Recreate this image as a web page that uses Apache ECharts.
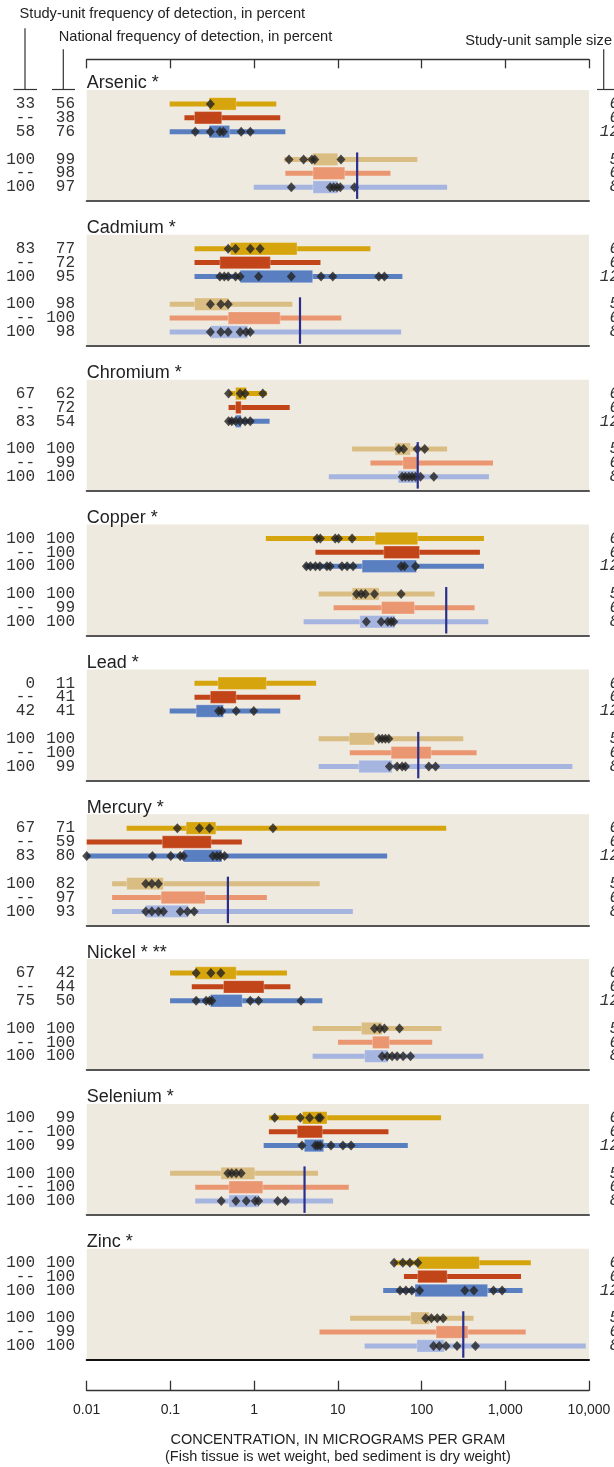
<!DOCTYPE html>
<html>
<head>
<meta charset="utf-8">
<script src="https://cdn.jsdelivr.net/npm/echarts@6/dist/echarts.min.js"></script>
<style>
html,body{margin:0;padding:0;background:#fff;}
#chart{width:614px;height:1467px;}
</style>
</head>
<body>
<div id="chart"></div>
<script>
// ---------------- DATA ----------------
const ELEMENTS = ['Arsenic *','Cadmium *','Chromium *','Copper *','Lead *','Mercury *','Nickel * **','Selenium *','Zinc *'];
const GUIDELINES = [17, 3.53, 90, 197, 91.3, 0.486, null, 4.0, 315];
const TICK_LABELS = ['0.01','0.1','1','10','100','1,000','10,000'];

// study-unit / national frequency of detection (rows: 3 fish tissue, 3 bed sediment)
const SU_FREQ = [
  ['33','--','58','100','--','100'],
  ['83','--','100','100','--','100'],
  ['67','--','83','100','--','100'],
  ['100','--','100','100','--','100'],
  ['0','--','42','100','--','100'],
  ['67','--','83','100','--','100'],
  ['67','--','75','100','--','100'],
  ['100','--','100','100','--','100'],
  ['100','--','100','100','--','100']
];
const NAT_FREQ = [
  ['56','38','76','99','98','97'],
  ['77','72','95','98','100','98'],
  ['62','72','54','100','99','100'],
  ['100','100','100','100','99','100'],
  ['11','41','41','100','100','99'],
  ['71','59','80','82','97','93'],
  ['42','44','50','100','100','100'],
  ['99','100','99','100','100','100'],
  ['100','100','100','100','99','100']
];
const SAMPLE_SIZE = ['6','6','12','5','6','8'];

// [min, lower box, upper box, max] per row
const arsenicStats  = [[0.098,0.29,0.61,1.84],[0.147,0.194,0.41,2.05],[0.098,0.29,0.51,2.36],[2.29,5.0,10.0,89],[2.36,5.05,12.1,42.5],[0.99,5.05,10.0,202]];
const cadmiumStats  = [[0.194,0.52,3.25,24.5],[0.194,0.39,1.56,6.2],[0.194,0.68,5.0,59],[0.098,0.194,0.5,2.86],[0.098,0.49,2.05,11.0],[0.098,0.30,0.84,57]];
const chromiumStats = [[0.495,0.60,0.81,1.42],[0.495,0.60,0.70,2.66],[0.495,0.60,0.70,1.53],[14.8,47.9,73.8,202],[24.5,60,91,713],[7.8,52.5,88.6,638]];
const copperStats   = [[1.38,27.9,90,556],[5.4,35.4,94.5,498],[3.98,19.5,87,556],[5.9,14.8,31.1,143],[8.9,33.2,82.3,430],[3.9,18.3,48.3,626]];
const leadStats     = [[0.194,0.37,1.4,5.5],[0.194,0.30,0.61,3.56],[0.098,0.203,0.43,2.05],[5.9,13.7,27.4,315],[13.9,43.3,130,454],[5.9,17.8,44.5,6330]];
const mercuryStats  = [[0.030,0.154,0.349,197],[0.01,0.080,0.307,0.714],[0.01,0.143,0.412,38.8],[0.0201,0.030,0.0826,6.07],[0.0201,0.0775,0.26,1.42],[0.0201,0.0508,0.164,15.1]];
const nickelStats   = [[0.099,0.198,0.61,2.47],[0.180,0.431,1.31,2.71],[0.099,0.30,0.72,6.53],[5.0,19.1,33.8,173],[10.05,25.9,41.3,134],[5.0,20.9,39.5,546]];
const seleniumStats = [[1.5,3.77,7.43,171],[1.5,3.28,6.53,40.2],[1.3,3.98,6.78,68.5],[0.099,0.40,1.02,5.8],[0.198,0.50,1.27,13.5],[0.198,0.50,1.14,8.77]];
const zincStats     = [[47.1,90,490,2018],[61.6,90,202,1541],[34.8,83.4,615,1607],[14.0,74.1,124,417],[6.04,149,358,1754],[20.9,88,187,9150]];

// study-unit site values (diamonds) per row
const arsenicSites  = [[0.30],[],[0.198,0.30,0.39,0.43,0.70,0.90],[2.61,3.9,4.9,5.3,10.9],[],[2.78,8.1,8.9,9.8,10.7,15.8]];
const cadmiumSites  = [[0.49,0.60,0.90,1.18],[],[0.39,0.44,0.49,0.60,0.68,1.13,2.78,6.3,8.7,30.8,36],[0.30,0.40,0.49],[],[0.30,0.40,0.49,0.68,0.80,0.90]];
const chromiumSites = [[0.495,0.68,0.78,1.27],[],[0.495,0.54,0.60,0.68,0.78,0.90],[53.5,61,88.6,109],[],[58.6,64,70.5,77,84.6,97,140]];
const copperSites   = [[5.64,6.18,9.3,10.2,14.8],[],[4.2,4.7,5.4,6.1,7.4,8.1,11.2,12.9,15.2,57,62.5,84.6],[16.7,19,21.3,27.4,57],[],[21.9,32.9,39.5,43.3,46.6]];
const leadSites     = [[],[],[0.376,0.41,0.61,0.99],[30.8,33.8,37,40.6],[],[41.3,51,58.6,64.3,122,147]];
const mercurySites  = [[0.121,0.222,0.293,1.68],[],[0.01,0.061,0.101,0.131,0.143,0.322,0.359,0.393,0.444],[0.0508,0.06,0.072],[],[0.0508,0.06,0.072,0.0826,0.131,0.16,0.192]];
const nickelSites   = [[0.203,0.304,0.40],[],[0.203,0.267,0.293,0.313,0.90,1.13,3.63],[27.4,31.7,36,54.5],[],[33.8,38.8,44.5,51,60.2,73.8]];
const seleniumSites = [[1.76,3.56,4.6,5.9,6.18],[],[3.73,5.39,5.74,6.18,8.29,11.5,14.4],[0.486,0.54,0.61,0.70],[],[0.405,0.605,0.806,1.03,1.13,1.91,2.36]];
const zincSites     = [[47,59.7,72.5,90],[],[55.3,65,76.5,94.9,329,421,723,917],[112,131,154,181],[],[139,163,196,265,440]];

const STATS = [arsenicStats,cadmiumStats,chromiumStats,copperStats,leadStats,mercuryStats,nickelStats,seleniumStats,zincStats];
const SITES = [arsenicSites,cadmiumSites,chromiumSites,copperSites,leadSites,mercurySites,nickelSites,seleniumSites,zincSites];

// ---------------- STYLE / LAYOUT ----------------
const ROW_COLORS = ['#d6a40c','#c2451a','#5a7fc1','#d9bd82','#ea9771','#a5b5df'];
const ROW_SLOTS = [1,2,3,5,6,7];
const PLOT_LEFT = 86.7, PLOT_RIGHT = 25;
const PANEL_TOP0 = 90, PANEL_STEP = 144.85, PANEL_H = 111;
const SANS = 'Liberation Sans, Arial, sans-serif';
const MONO = 'Liberation Mono, DejaVu Sans Mono, monospace';

function slotLabels(arr){
  const out = ['','','','','','','','',''];
  ROW_SLOTS.forEach((s,k)=>{ out[s] = arr[k]; });
  return out;
}

const option = {animation:false, grid:[], xAxis:[], yAxis:[], series:[], title:[], graphic:[]};

ELEMENTS.forEach((name,i)=>{
  const top = PANEL_TOP0 + i*PANEL_STEP;
  option.grid.push({left:PLOT_LEFT, right:PLOT_RIGHT, top:top, height:PANEL_H, show:true,
    backgroundColor:'#efeae0', borderWidth:0, containLabel:false, outerBoundsMode:'none'});
  option.xAxis.push({gridIndex:i, type:'log', logBase:10, min:0.01, max:10000,
    axisLine:{show:true, onZero:false, lineStyle:{color: i===8 ? '#111' : '#555', width:2}},
    axisTick:{show:false}, axisLabel:{show:false}, splitLine:{show:false}});
  const cat = {type:'category', boundaryGap:false, inverse:true, axisLine:{show:false}, axisTick:{show:false}, splitLine:{show:false}};
  option.yAxis.push(Object.assign({}, cat, {gridIndex:i, position:'left', data:slotLabels(SU_FREQ[i]),
    axisLabel:{interval:0, margin:51.7, fontFamily:MONO, fontSize:16, color:'#333'}}));
  option.yAxis.push(Object.assign({}, cat, {gridIndex:i, position:'left', data:slotLabels(NAT_FREQ[i]),
    axisLabel:{interval:0, margin:11.7, fontFamily:MONO, fontSize:16, color:'#333'}}));
  option.yAxis.push(Object.assign({}, cat, {gridIndex:i, position:'right', data:slotLabels(SAMPLE_SIZE),
    axisLabel:{interval:0, margin:30, align:'right', fontFamily:MONO, fontStyle:'italic', fontSize:16, color:'#333'}}));
  option.title.push({text:name, left:PLOT_LEFT, top:top-15.5, padding:0,
    textStyle:{fontSize:18, fontWeight:'normal', color:'#222', fontFamily:SANS}});

  const boxData = STATS[i].map((r,k)=>[r[0],r[1],r[2],r[3],ROW_SLOTS[k],k]);
  option.series.push({type:'custom', xAxisIndex:i, yAxisIndex:3*i, data:boxData, z:2,
    encode:{x:[0,1,2,3], y:4},
    renderItem:function(params, api){
      const row = api.value(4), ci = api.value(5);
      const a = api.coord([api.value(0), row]);
      const b = api.coord([api.value(1), row]);
      const c = api.coord([api.value(2), row]);
      const d = api.coord([api.value(3), row]);
      const col = ROW_COLORS[ci];
      return {type:'group', children:[
        {type:'rect', shape:{x:a[0], y:a[1]-2.5, width:d[0]-a[0], height:5}, style:{fill:col}},
        {type:'rect', shape:{x:b[0], y:b[1]-6.2, width:Math.max(c[0]-b[0],1), height:12.4}, style:{fill:col, stroke:'rgba(255,255,255,0.25)', lineWidth:1}}
      ]};
    }});

  const pts = [];
  SITES[i].forEach((vals,k)=>vals.forEach(v=>pts.push([v, ROW_SLOTS[k]])));
  option.series.push({type:'scatter', xAxisIndex:i, yAxisIndex:3*i, data:pts, z:4,
    symbol:'diamond', symbolSize:[9,10], itemStyle:{color:'#222'}});

  if (GUIDELINES[i] !== null){
    option.series.push({type:'custom', xAxisIndex:i, yAxisIndex:3*i, data:[[GUIDELINES[i], 4]], z:5,
      encode:{x:0, y:1},
      renderItem:function(params, api){
        const p4 = api.coord([api.value(0), 4]);
        const p5 = api.coord([api.value(0), 5]);
        const step = p5[1]-p4[1];
        return {type:'line', shape:{x1:p4[0], y1:p4[1]+0.5*step, x2:p4[0], y2:p4[1]+3.85*step},
          style:{stroke:'#2a2f8c', lineWidth:2.2}};
      }});
  }
});

// top axis (ticks only)
option.grid.push({left:PLOT_LEFT, right:PLOT_RIGHT, top:59.3, height:20, show:false, containLabel:false, outerBoundsMode:'none'});
option.xAxis.push({gridIndex:9, type:'log', logBase:10, min:0.01, max:10000, position:'top',
  axisLine:{show:true, onZero:false, lineStyle:{color:'#333', width:1.3}},
  axisTick:{show:true, inside:true, length:9, lineStyle:{color:'#333', width:1.3}},
  axisLabel:{show:false}, splitLine:{show:false}});
option.yAxis.push({gridIndex:9, type:'value', show:false});

// bottom axis with labels
option.grid.push({left:PLOT_LEFT, right:PLOT_RIGHT, top:1370, height:20.7, show:false, containLabel:false, outerBoundsMode:'none'});
option.xAxis.push({gridIndex:10, type:'log', logBase:10, min:0.01, max:10000, position:'bottom',
  axisLine:{show:true, onZero:false, lineStyle:{color:'#333', width:1.3}},
  axisTick:{show:true, inside:true, length:10, lineStyle:{color:'#333', width:1.3}},
  axisLabel:{show:true, margin:12, fontSize:14, color:'#222', fontFamily:SANS,
    formatter:function(v){ return TICK_LABELS[Math.round(Math.log10(v))+2]; }},
  splitLine:{show:false},
  name:'CONCENTRATION, IN MICROGRAMS PER GRAM\n(Fish tissue is wet weight, bed sediment is dry weight)',
  nameLocation:'middle', nameGap:41,
  nameTextStyle:{fontSize:14.5, lineHeight:17, color:'#222', fontFamily:SANS}});
option.yAxis.push({gridIndex:10, type:'value', show:false});

// header annotations
const LINE = {stroke:'#333', lineWidth:1.2};
option.graphic = [
  {type:'text', left:19.6, top:6, style:{text:'Study-unit frequency of detection, in percent', font:'14.6px '+SANS, fill:'#222'}},
  {type:'text', left:58.8, top:29, style:{text:'National frequency of detection, in percent', font:'14.6px '+SANS, fill:'#222'}},
  {type:'text', right:2, top:33, style:{text:'Study-unit sample size', font:'14.6px '+SANS, fill:'#222'}},
  {type:'line', shape:{x1:25, y1:28.3, x2:25, y2:89.5}, style:LINE},
  {type:'line', shape:{x1:13.5, y1:89.5, x2:37, y2:89.5}, style:LINE},
  {type:'line', shape:{x1:63.3, y1:49.3, x2:63.3, y2:89.5}, style:LINE},
  {type:'line', shape:{x1:52, y1:89.5, x2:75, y2:89.5}, style:LINE},
  {type:'line', shape:{x1:603.7, y1:49.3, x2:603.7, y2:89.5}, style:LINE},
  {type:'line', shape:{x1:597, y1:89.5, x2:614, y2:89.5}, style:LINE}
];

const chart = echarts.init(document.getElementById('chart'), null, {renderer:'canvas'});
chart.setOption(option);
</script>
</body>
</html>
